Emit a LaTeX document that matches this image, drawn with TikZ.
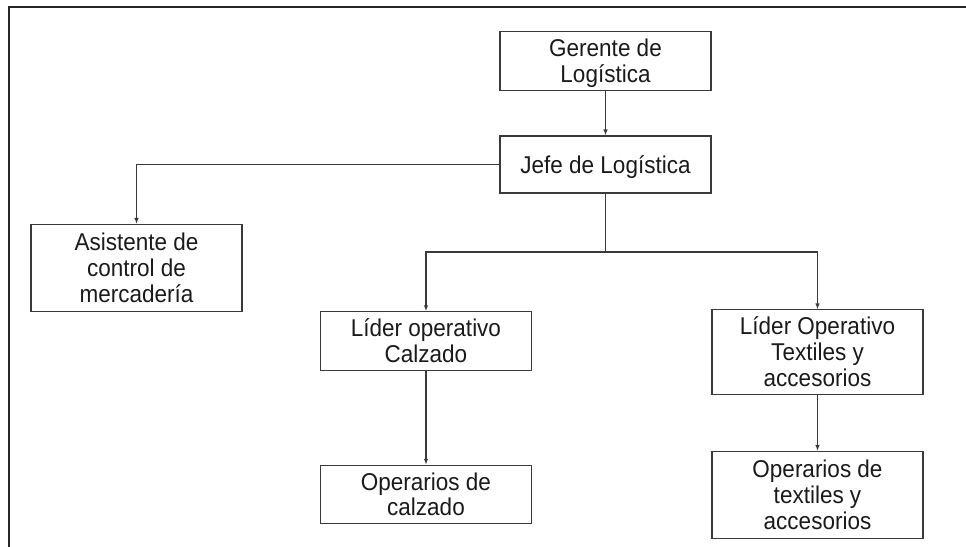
\documentclass[tikz,border=0pt]{standalone}
\usepackage{fontspec}
\setmainfont{Liberation Sans}
\usetikzlibrary{arrows.meta}
\definecolor{boxline}{HTML}{3A3A3A}
\definecolor{txt}{HTML}{1A1A1A}
\newcommand{\orgtext}[1]{\raisebox{0pt}[\dimexpr\height+7pt\relax][\depth]{\scalebox{1}[1.08]{\begin{tabular}{@{}c@{}}#1\end{tabular}}}}
\tikzset{
  orgbox/.style={draw=boxline, line width=1.1pt, rectangle, minimum width=211pt, inner sep=0pt, align=center, text=txt, font=\fontsize{22.5}{23.8}\selectfont},
  conn/.style={draw=boxline, line width=1.1pt},
  arr/.style={conn, -{Latex[length=6pt,width=4.5pt]}},
  frameline/.style={draw=black!85, line width=2.2pt}
}
\begin{document}
\begin{tikzpicture}[x=1pt,y=-1pt]
\useasboundingbox (0,0) rectangle (966,546);
\draw[frameline] (9,548) -- (9,7) -- (968,7);
\node[orgbox, minimum height=58pt] (ger) at (605.5,61) {\orgtext{Gerente de\\Logística}};
\node[orgbox, minimum height=57pt] (jefe) at (605.5,164.5) {\orgtext{Jefe de Logística}};
\node[orgbox, minimum height=87pt] (asis) at (136.5,268) {\orgtext{Asistente de\\control de\\mercadería}};
\node[orgbox, minimum height=56pt] (lidc) at (426,341) {\orgtext{Líder operativo\\Calzado}};
\node[orgbox, minimum height=78pt] (lidt) at (817.5,352) {\orgtext{Líder Operativo\\Textiles y\\accesorios}};
\node[orgbox, minimum height=57pt] (opc) at (426,494.5) {\orgtext{Operarios de\\calzado}};
\node[orgbox, minimum height=87pt] (opt) at (817.5,495) {\orgtext{Operarios de\\textiles y\\accesorios}};
\coordinate (split) at (605.5,252);
\draw[arr] (ger.south) -- (jefe.north);
\draw[arr] (jefe.west) -| (asis.north);
\draw[conn] (jefe.south) -- (split);
\draw[arr] (split) -| (lidc.north);
\draw[arr] (split) -| (lidt.north);
\draw[arr] (lidc.south) -- (opc.north);
\draw[arr] (lidt.south) -- (opt.north);
\end{tikzpicture}
\end{document}
